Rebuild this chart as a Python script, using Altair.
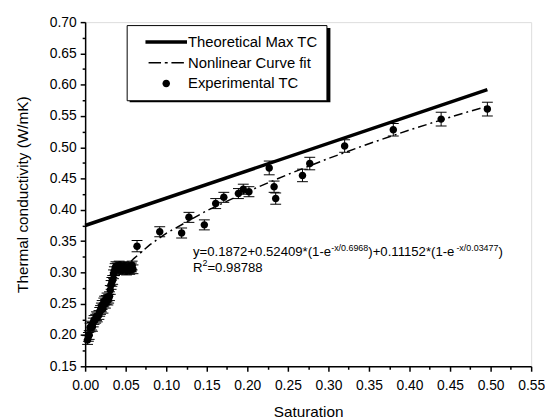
import altair as alt
import pandas as pd

FONT = "Liberation Sans"

# ---------------- data ----------------
series_names = ["Theoretical Max TC", "Nonlinear Curve fit", "Experimental TC"]

theo_x = [0.0, 0.496]
theo_y = [0.375, 0.592]

fit_x = [0.0, 0.01, 0.02, 0.03, 0.04, 0.05, 0.06, 0.08, 0.10, 0.15, 0.20,
         0.25, 0.30, 0.35, 0.40, 0.45, 0.495]
fit_y = [0.1872, 0.2225, 0.2508, 0.2737, 0.2927, 0.3085, 0.3221, 0.3444,
         0.3625, 0.3987, 0.4291, 0.4566, 0.4821, 0.5057, 0.5276, 0.5481, 0.5653]

exp_x = [0.003, 0.004, 0.005, 0.006, 0.008, 0.009, 0.010, 0.011, 0.013, 0.014,
         0.015, 0.017, 0.018, 0.019, 0.020, 0.021, 0.022, 0.023, 0.024, 0.025,
         0.026, 0.027, 0.028, 0.029, 0.030, 0.031, 0.032, 0.033, 0.034, 0.035,
         0.036, 0.037, 0.038, 0.040, 0.041, 0.042, 0.044, 0.045, 0.046, 0.048,
         0.050, 0.051, 0.052, 0.054, 0.055, 0.057, 0.058, 0.059,
         0.064, 0.092, 0.119, 0.128, 0.147, 0.161, 0.171, 0.189, 0.195, 0.202,
         0.227, 0.233, 0.235, 0.268, 0.277, 0.320, 0.380, 0.439, 0.496]
exp_y = [0.192, 0.197, 0.200, 0.212, 0.215, 0.213, 0.220, 0.224, 0.226, 0.230,
         0.228, 0.232, 0.237, 0.240, 0.244, 0.248, 0.242, 0.252, 0.255, 0.250,
         0.256, 0.260, 0.255, 0.258, 0.262, 0.272, 0.280, 0.285, 0.288, 0.297,
         0.302, 0.307, 0.310, 0.308, 0.305, 0.311, 0.306, 0.309, 0.304, 0.310,
         0.307, 0.303, 0.306, 0.309, 0.304, 0.308, 0.311, 0.305,
         0.342, 0.365, 0.363, 0.388, 0.376, 0.410, 0.420, 0.426, 0.433, 0.429,
         0.467, 0.437, 0.418, 0.455, 0.474, 0.502, 0.528, 0.545, 0.561]
exp_err = [0.007] * 48 + [0.009, 0.008, 0.008, 0.008, 0.008, 0.008, 0.008, 0.008,
                          0.008, 0.008, 0.011, 0.009, 0.009, 0.010, 0.010, 0.010,
                          0.010, 0.011, 0.011]

x_ticks = [round(i * 0.025, 3) for i in range(23)]
y_ticks = [round(0.15 + i * 0.025, 3) for i in range(23)]

eq_line1 = [("y=0.1872+0.52409*(1-e", False), ("-x/0.6968", True),
            (")+0.11152*(1-e", False), ("-x/0.03477", True), (")", False)]
eq_line2 = [("R", False), ("2", True), ("=0.98788", False)]

# ---------------- frames ----------------
theo_df = pd.DataFrame({"x": theo_x, "y": theo_y, "series": series_names[0]})
fit_df = pd.DataFrame({"x": fit_x, "y": fit_y, "series": series_names[1]})
exp_df = pd.DataFrame({"x": exp_x, "y": exp_y, "err": exp_err})
exp_df["lo"] = exp_df["y"] - exp_df["err"]
exp_df["hi"] = exp_df["y"] + exp_df["err"]
exp_df["series"] = series_names[2]

# ---------------- axes ----------------
major = "abs(datum.value*20 - round(datum.value*20)) < 0.01"
common_axis = dict(
    grid=False, domainColor="black", domainWidth=1.5, tickColor="black",
    tickWidth=1.5, tickSize={"condition": {"test": major, "value": 5}, "value": 3},
    labelExpr=f"{major} ? format(datum.value, '.2f') : ''",
    labelFont=FONT, labelFontSize=14, labelColor="black", labelFlush=False,
    labelOverlap=False, titleFont=FONT, titleFontSize=15.5,
    titleFontWeight="normal", titleColor="black",
)
x_axis = alt.Axis(values=x_ticks, labelPadding=7, titlePadding=13, **common_axis)
y_axis = alt.Axis(values=y_ticks, labelPadding=4, titlePadding=19, **common_axis)
x_scale = alt.Scale(domain=[0, 0.55], nice=False, zero=False)
y_scale = alt.Scale(domain=[0.15, 0.70], nice=False, zero=False)
XT = "Saturation"
YT = "Thermal conductivity (W/mK)"


def X(f):
    return alt.X(f, type="quantitative", scale=x_scale, axis=x_axis, title=XT)


def Y(f):
    return alt.Y(f, type="quantitative", scale=y_scale, axis=y_axis, title=YT)


# ---------------- legend shapes ----------------
solid_path = "M-1,-0.085H1V0.085H-1Z"
dashdot_path = ("M-0.85,-0.036H-0.25V0.036H-0.85Z M-0.07,-0.036H0.07V0.036H-0.07Z "
                "M0.25,-0.036H0.85V0.036H0.25Z")
circle_path = "M-0.18,0A0.18,0.18 0 1,0 0.18,0A0.18,0.18 0 1,0 -0.18,0Z"

legend = alt.Legend(
    title=None, orient="none", legendX=42, legendY=3, strokeColor="black",
    fillColor="white", padding=9, labelFont=FONT, labelFontSize=15,
    labelColor="black", symbolSize=1764, symbolStrokeWidth=0, rowPadding=5,
    clipHeight=16, symbolOffset=10, labelOffset=1, symbolFillColor="black",
)

# legend drop shadow (decoration, pixel placed behind the legend box)
shadow = alt.Chart(pd.DataFrame({"k": [0]})).mark_rect(color="black").encode(
    x=alt.value(45), x2=alt.value(248), y=alt.value(6), y2=alt.value(81))

theo = alt.Chart(theo_df).mark_line(color="black", strokeWidth=3.5).encode(
    x=X("x"), y=Y("y"))
fit = alt.Chart(fit_df).mark_line(color="black", strokeWidth=1.5,
                                  strokeDash=[9, 4, 2, 4]).encode(x=X("x"), y=Y("y"))
bars = alt.Chart(exp_df).mark_rule(color="black", strokeWidth=1).encode(
    x=X("x"), y=Y("lo"), y2="hi")
cap_lo = alt.Chart(exp_df).mark_tick(color="black", orient="horizontal", size=11,
                                     thickness=1, opacity=1).encode(x=X("x"), y=Y("lo"))
cap_hi = alt.Chart(exp_df).mark_tick(color="black", orient="horizontal", size=11,
                                     thickness=1, opacity=1).encode(x=X("x"), y=Y("hi"))
pts = alt.Chart(exp_df).mark_point(filled=True, size=1764, opacity=1, color="black",
                                   strokeWidth=0).encode(
    x=X("x"), y=Y("y"),
    shape=alt.Shape("series:N", legend=legend,
                    scale=alt.Scale(domain=series_names,
                                    range=[solid_path, dashdot_path, circle_path])))

# ---------------- equation text ----------------
W = {'0': .556, '1': .556, '2': .556, '3': .556, '4': .556, '5': .556, '6': .556,
     '7': .556, '8': .556, '9': .556, '.': .278, '+': .584, '=': .584, '*': .389,
     '(': .333, ')': .333, '-': .333, '/': .278, 'x': .5, 'y': .5, 'e': .556,
     'R': .722}
F_BIG, F_SUP, RISE = 13.3, 9, 6


def text_layers(segments, x0, y0):
    layers = []
    off = 0.0
    df = pd.DataFrame({"x": [x0], "y": [y0]})
    for s, sup in segments:
        fs = F_SUP if sup else F_BIG
        layers.append(alt.Chart(df).mark_text(
            text=s, align="left", baseline="alphabetic", dx=off,
            dy=-RISE if sup else 0, font=FONT, fontSize=fs, color="black"
        ).encode(x=X("x"), y=Y("y")))
        off += sum(W[c] for c in s) * fs
    return layers


texts = text_layers(eq_line1, 0.133, 0.3255) + text_layers(eq_line2, 0.133, 0.3005)

chart = alt.layer(shadow, theo, fit, bars, cap_lo, cap_hi, pts, *texts).properties(
    width=451, height=348,
    autosize=alt.AutoSizeParams(type="none"),
    padding={"left": 78, "top": 12, "right": 14, "bottom": 49},
).configure_view(stroke=None).configure(background="white")

chart.save("out.html", embed_options={"renderer": "svg", "actions": False})
